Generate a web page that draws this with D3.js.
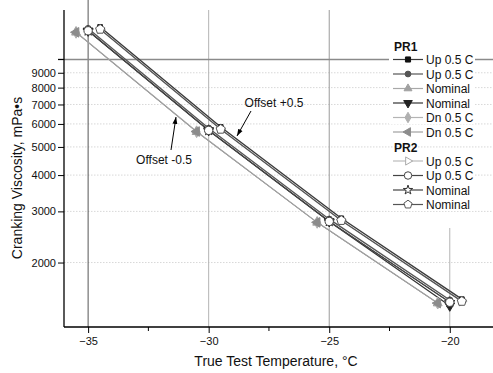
<!DOCTYPE html>
<html>
<head>
<meta charset="utf-8">
<script src="https://cdn.jsdelivr.net/npm/d3@7"></script>
<style>
  body { margin: 0; background: #fff; }
  svg { display: block; font-family: "Liberation Sans", Arial, sans-serif; }
</style>
</head>
<body>
<svg id="chart" width="493" height="373"></svg>
<script>
// Test temperatures (°C)
const temps = [-35, -30, -25, -20];
const xMajorTicks = [-35, -30, -25, -20];
const xMinorTicks = [-32.5, -27.5, -22.5];
const yTickValues = [2000, 3000, 4000, 5000, 6000, 7000, 8000, 9000];
const yRefLine = 10000;

// Cranking viscosity (mPa·s) per series
const pr1DnDiamond   = [12400, 5640, 2750, 1450];
const pr1NomUp       = [12380, 5630, 2745, 1448];
const pr1DnLeft      = [12400, 5650, 2750, 1450];
const pr1UpCircle    = [12780, 5800, 2820, 1486];
const pr1NomDown     = [12550, 5700, 2770, 1420];
const pr2NomStar     = [12550, 5700, 2770, 1460];
const pr2UpCircle    = [12550, 5700, 2770, 1460];
const pr2UpRight     = [12700, 5750, 2790, 1470];
const pr1UpSquare    = [12930, 5855, 2840, 1496];
const pr2NomPentagon = [12700, 5750, 2790, 1470];

const groupNames = ["PR1", "PR2"];

(function () {
const svg = d3.select("#chart");
const W = 493;
const plotLeft = 64, plotBottom = 327, plotTop = 10;

const x = d3.scaleLinear().domain([-36, -18]).range([plotLeft, 498]);
const y = d3.scaleLog().domain([1200, 14800]).range([plotBottom, plotTop]);

// symbol shapes rotated from the built-in triangle
const rotated = (type, deg) => ({
  draw(ctx, size) {
    const p = d3.path();
    type.draw(p, size);
    const pts = p.toString().replace(/Z/g, "").split(/[ML]/).filter(s => s.length).map(s => s.split(",").map(Number));
    const a = deg * Math.PI / 180, c = Math.cos(a), s = Math.sin(a);
    pts.forEach(([px, py], i) => {
      const rx = px * c - py * s, ry = px * s + py * c;
      i ? ctx.lineTo(rx, ry) : ctx.moveTo(rx, ry);
    });
    ctx.closePath();
  }
});
const pentagon = {
  draw(ctx, size) {
    const r = Math.sqrt(size / 2.38);
    for (let i = 0; i < 5; i++) {
      const a = -Math.PI / 2 + i * 2 * Math.PI / 5;
      const px = r * Math.cos(a), py = r * Math.sin(a);
      i ? ctx.lineTo(px, py) : ctx.moveTo(px, py);
    }
    ctx.closePath();
  }
};

const series = [
  { group: 0, label: "Dn 0.5 C", shift: -0.5, values: pr1DnDiamond, line: "#b4b4b4", lw: 1, sym: d3.symbolDiamond, size: 40, fill: "#b0b0b0", stroke: "#b0b0b0", legendRow: 4 },
  { group: 0, label: "Nominal", shift: -0.5, values: pr1NomUp, line: "#a8a8a8", lw: 1, sym: d3.symbolTriangle, size: 34, fill: "#a0a0a0", stroke: "#a0a0a0", legendRow: 2 },
  { group: 0, label: "Dn 0.5 C", shift: -0.5, values: pr1DnLeft, line: "#a0a0a0", lw: 1.2, sym: rotated(d3.symbolTriangle, -90), size: 40, fill: "#8c8c8c", stroke: "#8c8c8c", legendRow: 5 },
  { group: 0, label: "Up 0.5 C", shift: 0, values: pr1UpCircle, line: "#555", lw: 1.4, sym: d3.symbolCircle, size: 30, fill: "#555", stroke: "#555", legendRow: 1 },
  { group: 0, label: "Nominal", shift: 0, values: pr1NomDown, line: "#333", lw: 1.2, sym: rotated(d3.symbolTriangle, 180), size: 40, fill: "#222", stroke: "#222", legendRow: 3 },
  { group: 1, label: "Nominal", shift: 0, values: pr2NomStar, line: "#444", lw: 1, sym: d3.symbolStar, size: 34, fill: "#fff", stroke: "#333", legendRow: 2 },
  { group: 1, label: "Up 0.5 C", shift: 0, values: pr2UpCircle, line: "#444", lw: 1.3, sym: d3.symbolCircle, size: 55, fill: "#fff", stroke: "#444", legendRow: 1 },
  { group: 1, label: "Up 0.5 C", shift: 0.5, values: pr2UpRight, line: "#bbb", lw: 1, sym: rotated(d3.symbolTriangle, 90), size: 36, fill: "#fff", stroke: "#aaa", legendRow: 0 },
  { group: 0, label: "Up 0.5 C", shift: 0.5, values: pr1UpSquare, line: "#3a3a3a", lw: 1.4, sym: d3.symbolSquare, size: 22, fill: "#111", stroke: "#111", legendRow: 0 },
  { group: 1, label: "Nominal", shift: 0.5, values: pr2NomPentagon, line: "#555", lw: 1.3, sym: pentagon, size: 55, fill: "#fff", stroke: "#555", legendRow: 3 }
];

// horizontal dotted grid
svg.append("g").selectAll("line").data(yTickValues).join("line")
  .attr("x1", plotLeft).attr("x2", W)
  .attr("y1", d => y(d)).attr("y2", d => y(d))
  .attr("stroke", "#d8d8d8").attr("stroke-width", 1).attr("stroke-dasharray", "1.5,1.5");

// vertical temperature lines
const vLines = [
  { t: -35, y0: 0, color: "#555" },
  { t: -30, y0: plotTop, color: "#b4b4b4" },
  { t: -25, y0: plotTop, color: "#9a9a9a" },
  { t: -20, y0: 228, color: "#b4b4b4" }
];
svg.append("g").selectAll("line").data(vLines).join("line")
  .attr("x1", d => x(d.t)).attr("x2", d => x(d.t))
  .attr("y1", d => d.y0).attr("y2", plotBottom)
  .attr("stroke", d => d.color).attr("stroke-width", 1);

// 10000 reference line
svg.append("line")
  .attr("x1", plotLeft - 6).attr("x2", W)
  .attr("y1", y(yRefLine)).attr("y2", y(yRefLine))
  .attr("stroke", "#8a8a8a").attr("stroke-width", 1.5);

// series lines and markers
const lineGen = d3.line().x(d => x(d[0])).y(d => y(d[1]));
series.forEach(s => {
  const pts = temps.map((t, i) => [t + s.shift, s.values[i]]);
  svg.append("path").attr("d", lineGen(pts))
    .attr("fill", "none").attr("stroke", s.line).attr("stroke-width", s.lw);
});
series.forEach(s => {
  const pts = temps.map((t, i) => [t + s.shift, s.values[i]]);
  svg.append("g").selectAll("path").data(pts).join("path")
    .attr("transform", d => `translate(${x(d[0])},${y(d[1])})`)
    .attr("d", d3.symbol(s.sym, s.size))
    .attr("fill", s.fill).attr("stroke", s.stroke).attr("stroke-width", 1);
});

// axes
const xAxis = svg.append("g").attr("transform", `translate(0,${plotBottom})`);
xAxis.call(d3.axisBottom(x).tickValues(xMajorTicks).tickSize(6).tickFormat(d3.format("d")));
xAxis.append("g").selectAll("line").data(xMinorTicks).join("line")
  .attr("x1", d => x(d)).attr("x2", d => x(d)).attr("y1", 0).attr("y2", 4)
  .attr("stroke", "#000");
xAxis.select(".domain").attr("d", `M${plotLeft},0H${W}`).attr("stroke-width", 1.3);
xAxis.selectAll(".tick text").attr("font-size", 11).attr("fill", "#111").attr("y", 10);

const yAxis = svg.append("g").attr("transform", `translate(${plotLeft},0)`);
yAxis.call(d3.axisLeft(y).tickValues(yTickValues).tickSize(6).tickFormat(d3.format("d")));
yAxis.append("line").attr("x1", -6).attr("x2", 0).attr("y1", y(yRefLine)).attr("y2", y(yRefLine)).attr("stroke", "#000");
yAxis.select(".domain").attr("d", `M0,${plotTop}V${plotBottom}`).attr("stroke-width", 1.3);
yAxis.selectAll(".tick text").attr("font-size", 11).attr("fill", "#111").attr("x", -8);

// axis titles
svg.append("text").attr("x", 276).attr("y", 366).attr("text-anchor", "middle")
  .attr("font-size", 14).attr("fill", "#111").text("True Test Temperature, °C");
svg.append("text").attr("transform", "translate(22,178) rotate(-90)").attr("text-anchor", "middle")
  .attr("font-size", 14).attr("fill", "#111").text("Cranking Viscosity, mPa•s");

// annotations with arrows
const defs = svg.append("defs");
defs.append("marker").attr("id", "arrow").attr("viewBox", "0 0 10 10")
  .attr("refX", 10).attr("refY", 5).attr("markerWidth", 7).attr("markerHeight", 7)
  .attr("orient", "auto").append("path").attr("d", "M0,1.5L10,5L0,8.5Z").attr("fill", "#000");

svg.append("text").attr("x", 274).attr("y", 107).attr("text-anchor", "middle")
  .attr("font-size", 12).attr("fill", "#111").text("Offset +0.5");
svg.append("line").attr("x1", 251).attr("y1", 111).attr("x2", 237).attr("y2", 136)
  .attr("stroke", "#000").attr("stroke-width", 1).attr("marker-end", "url(#arrow)");

svg.append("text").attr("x", 164).attr("y", 164).attr("text-anchor", "middle")
  .attr("font-size", 12).attr("fill", "#111").text("Offset -0.5");
svg.append("line").attr("x1", 171).attr("y1", 150).attr("x2", 176).attr("y2", 117)
  .attr("stroke", "#000").attr("stroke-width", 1).attr("marker-end", "url(#arrow)");

// legend
const lg = svg.append("g");
const rowH = 14.5;
const legendX = 393;
const pr1Rows = series.filter(s => s.group === 0).sort((a, b) => a.legendRow - b.legendRow);
const pr2Rows = series.filter(s => s.group === 1).sort((a, b) => a.legendRow - b.legendRow);
let rowY = 46;
[pr1Rows, pr2Rows].forEach((rows, gi) => {
  lg.append("text").attr("x", legendX + 1).attr("y", rowY + 4.5)
    .attr("font-size", 12).attr("font-weight", "bold").attr("fill", "#111").text(groupNames[gi]);
  rowY += rowH;
  rows.forEach(s => {
    const row = lg.append("g").attr("transform", `translate(0,${rowY - 1})`);
    row.append("rect").attr("x", legendX - 4).attr("y", -6.5).attr("width", 86).attr("height", 13).attr("fill", "#fff");
    row.append("line").attr("x1", legendX).attr("x2", legendX + 30).attr("y1", 0).attr("y2", 0)
      .attr("stroke", s.line).attr("stroke-width", 1.2);
    row.append("path").attr("transform", `translate(${legendX + 15},0)`)
      .attr("d", d3.symbol(s.sym, Math.max(s.size * 0.8, 26)))
      .attr("fill", s.fill).attr("stroke", s.stroke).attr("stroke-width", 1);
    row.append("text").attr("x", legendX + 33).attr("y", 4.5)
      .attr("font-size", 12).attr("fill", "#111").text(s.label);
    rowY += rowH;
  });
});
})();
</script>
</body>
</html>
